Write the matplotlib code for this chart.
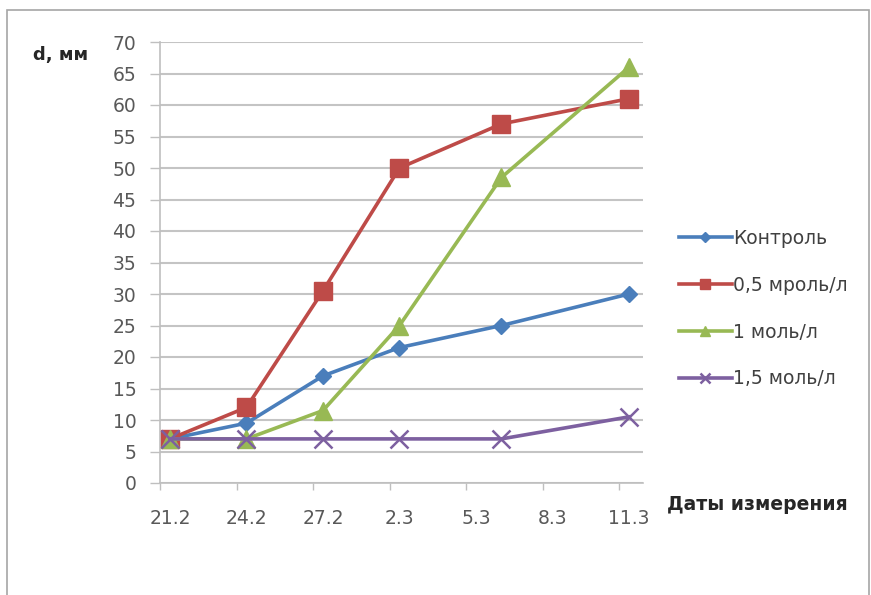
import numpy as np
import matplotlib
matplotlib.use("Agg")
import matplotlib.pyplot as plt
from matplotlib.patches import Rectangle

# Days since 21.2 for each measurement
days = [0, 3, 6, 9, 13, 18]
tick_days = [0, 3, 6, 9, 12, 15, 18]
tick_labels = ["21.2", "24.2", "27.2", "2.3", "5.3", "8.3", "11.3"]

control = [7, 9.5, 17, 21.5, 25, 30]
c05 = [7, 12, 30.5, 50, 57, 61]
c1 = [7, 7, 11.5, 25, 48.5, 66]
c15 = [7, 7, 7, 7, 7, 10.5]

names = ["Контроль", "0,5 мроль/л", "1 моль/л", "1,5 моль/л"]
colors = ["#4A7EBB", "#BE4B48", "#98B954", "#7D60A0"]
markers = ["D", "s", "^", "x"]
msizes = [8.5, 13, 12.5, 13.5]

plt.rcParams['font.family'] = ['DejaVu Sans']

fig = plt.figure(figsize=(8.71, 5.95), dpi=100)
fig.patches.append(Rectangle((7/871, -10/595), 862/871, 595/595, transform=fig.transFigure,
                             fill=False, edgecolor="#A6A6A6", linewidth=1.2))

ax = fig.add_axes([160/871, 1-483/595, (643-160)/871, (483-42)/595])
x0 = -0.39
ax.set_xlim(x0, 18.55)
ax.set_ylim(0, 70)

for vals, name, col, mk, ms in zip([control, c05, c1, c15], names, colors, markers, msizes):
    kw = dict(markeredgewidth=1.8) if mk == "x" else dict(markeredgecolor=col)
    ax.plot(days, vals, color=col, linewidth=2.6, marker=mk, markersize=ms,
            markerfacecolor=col, label=name, zorder=3, **kw)

ax.set_yticks(np.arange(0, 71, 5))
ax.yaxis.grid(True, color="#C4C4C4", linewidth=1.5)
ax.set_axisbelow(True)

# tick marks between, labels at dates
ax.set_xticks([x0 + d for d in tick_days])
ax.set_xticklabels([])
ax.set_xticks(tick_days, minor=True)
ax.set_xticklabels(tick_labels, minor=True)
ax.tick_params(axis="x", which="minor", length=0, pad=19, labelsize=13.5, labelcolor="#595959")
ax.tick_params(axis="x", which="major", length=5, color="#BFBFBF", width=1)
ax.tick_params(axis="y", length=7, color="#BFBFBF", width=1, labelsize=13.5, labelcolor="#595959", pad=10)

for s in ["top", "right"]:
    ax.spines[s].set_visible(False)
ax.spines["left"].set_color("#BFBFBF")
ax.spines["bottom"].set_color("#BFBFBF")
ax.spines["left"].set_linewidth(1.2)
ax.spines["bottom"].set_linewidth(1.2)

fig.text(61/871, 1-55/595, "d, мм", fontsize=13, fontweight="bold", ha="center", va="center", color="#262626")
fig.text(757/871, 1-505/595, "Даты измерения", fontsize=13.5, fontweight="bold", ha="center", va="center", color="#262626")

leg = fig.legend(loc="upper left", bbox_to_anchor=(679/871, 1-229/595), frameon=False,
                 fontsize=13.5, labelspacing=1.48, handlelength=2.8, handletextpad=0.1,
                 borderpad=0, borderaxespad=0, markerscale=0.55)
for t in leg.get_texts():
    t.set_color("#404040")

fig.savefig("out.png", dpi=100)
